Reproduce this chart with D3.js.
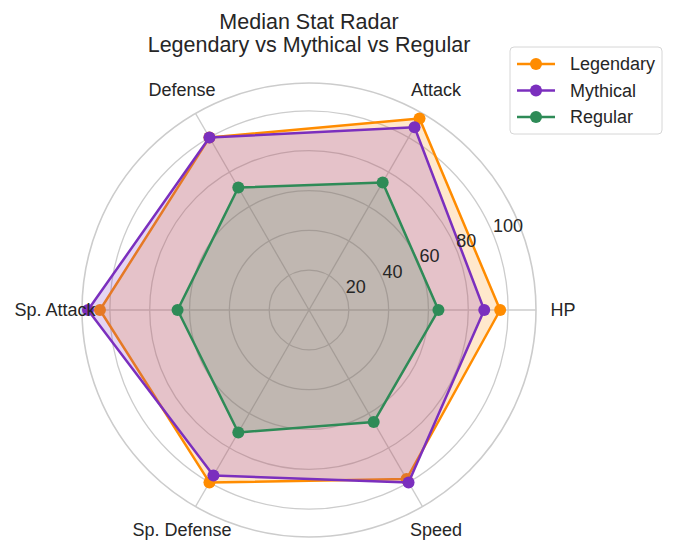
<!DOCTYPE html>
<html>
<head>
<meta charset="utf-8">
<script src="https://cdn.jsdelivr.net/npm/d3@7"></script>
<style>
  body { margin: 0; background: #fff; }
  text { font-family: "Liberation Sans", Arial, sans-serif; fill: #262626; }
</style>
</head>
<body>
<div id="chart"></div>
<script>
// stats, counter-clockwise from the right
var stats = ["HP", "Attack", "Defense", "Sp. Attack", "Sp. Defense", "Speed"]
var legendary = [96, 111, 100, 105, 100, 98]
var mythical = [88, 106, 100, 111, 96, 100]
var regular = [65, 74, 71, 66, 71, 65]
var rTicks = [20, 40, 60, 80, 100]

var series = [
  {name: "Legendary", values: legendary, colour: "#ff8c00"},
  {name: "Mythical", values: mythical, colour: "#7b2fbe"},
  {name: "Regular", values: regular, colour: "#2e8b57"}
]

var W = 674, H = 552
var cx = 309, cy = 310, plotRadius = 227
var rMax = 114

var svg = d3.select("#chart").append("svg").attr("width", W).attr("height", H)

var rScale = d3.scaleLinear().domain([0, rMax]).range([0, plotRadius])
var thetaScale = d3.scaleLinear().domain([0, stats.length]).range([0, 2 * Math.PI])

function px(r, i) { return rScale(r) * Math.cos(thetaScale(i)) }
function py(r, i) { return -rScale(r) * Math.sin(thetaScale(i)) }

var g = svg.append("g").attr("transform", "translate(" + cx + "," + cy + ")")

// grid rings
g.selectAll(".ring").data(rTicks).enter().append("circle")
  .attr("r", d => rScale(d))
  .attr("fill", "none").attr("stroke", "#cccccc").attr("stroke-width", 1.3)

// spokes
g.selectAll(".spoke").data(stats).enter().append("line")
  .attr("x1", 0).attr("y1", 0)
  .attr("x2", (d, i) => px(rMax, i)).attr("y2", (d, i) => py(rMax, i))
  .attr("stroke", "#cccccc").attr("stroke-width", 1.3)

// outer frame
g.append("circle").attr("r", plotRadius)
  .attr("fill", "none").attr("stroke", "#cccccc").attr("stroke-width", 1.6)

// series
var line = d3.line().x(d => px(d.v, d.i)).y(d => py(d.v, d.i)).curve(d3.curveLinearClosed)

series.forEach(function(s) {
  var pts = s.values.map((v, i) => ({v: v, i: i}))
  g.append("path").datum(pts).attr("d", line)
    .attr("fill", s.colour).attr("fill-opacity", 0.2)
    .attr("stroke", s.colour).attr("stroke-width", 2.5).attr("stroke-linejoin", "round")
  g.selectAll(null).data(pts).enter().append("circle")
    .attr("cx", d => px(d.v, d.i)).attr("cy", d => py(d.v, d.i))
    .attr("r", 6).attr("fill", s.colour)
})

// radial tick labels at 22.5 degrees
var labAngle = 22.5 * Math.PI / 180
g.selectAll(".rlab").data(rTicks).enter().append("text")
  .attr("x", d => rScale(d) * Math.cos(labAngle))
  .attr("y", d => -rScale(d) * Math.sin(labAngle) - 2)
  .attr("font-size", 18)
  .text(d => d)

// category labels
g.selectAll(".clab").data(stats).enter().append("text")
  .attr("x", (d, i) => (plotRadius + 27) * Math.cos(thetaScale(i)))
  .attr("y", (d, i) => -(plotRadius + 27) * Math.sin(thetaScale(i)))
  .attr("text-anchor", "middle").attr("dominant-baseline", "central")
  .attr("font-size", 18)
  .text(d => d)

// title
svg.append("text").attr("x", cx).attr("y", 29).attr("text-anchor", "middle")
  .attr("font-size", 21.5).text("Median Stat Radar")
svg.append("text").attr("x", cx).attr("y", 52).attr("text-anchor", "middle")
  .attr("font-size", 21.5).text("Legendary vs Mythical vs Regular")

// legend
var lg = svg.append("g").attr("transform", "translate(510,47)")
lg.append("rect").attr("width", 152).attr("height", 87).attr("rx", 4)
  .attr("fill", "#fff").attr("fill-opacity", 0.8).attr("stroke", "#d6d6d6")
var items = lg.selectAll(".item").data(series).enter().append("g")
  .attr("transform", (d, i) => "translate(0," + (17 + i * 26.5) + ")")
items.append("line").attr("x1", 7).attr("x2", 45)
  .attr("stroke", d => d.colour).attr("stroke-width", 2.5)
items.append("circle").attr("cx", 26).attr("r", 6).attr("fill", d => d.colour)
items.append("text").attr("x", 60).attr("dominant-baseline", "central")
  .attr("font-size", 18).text(d => d.name)
</script>
</body>
</html>
